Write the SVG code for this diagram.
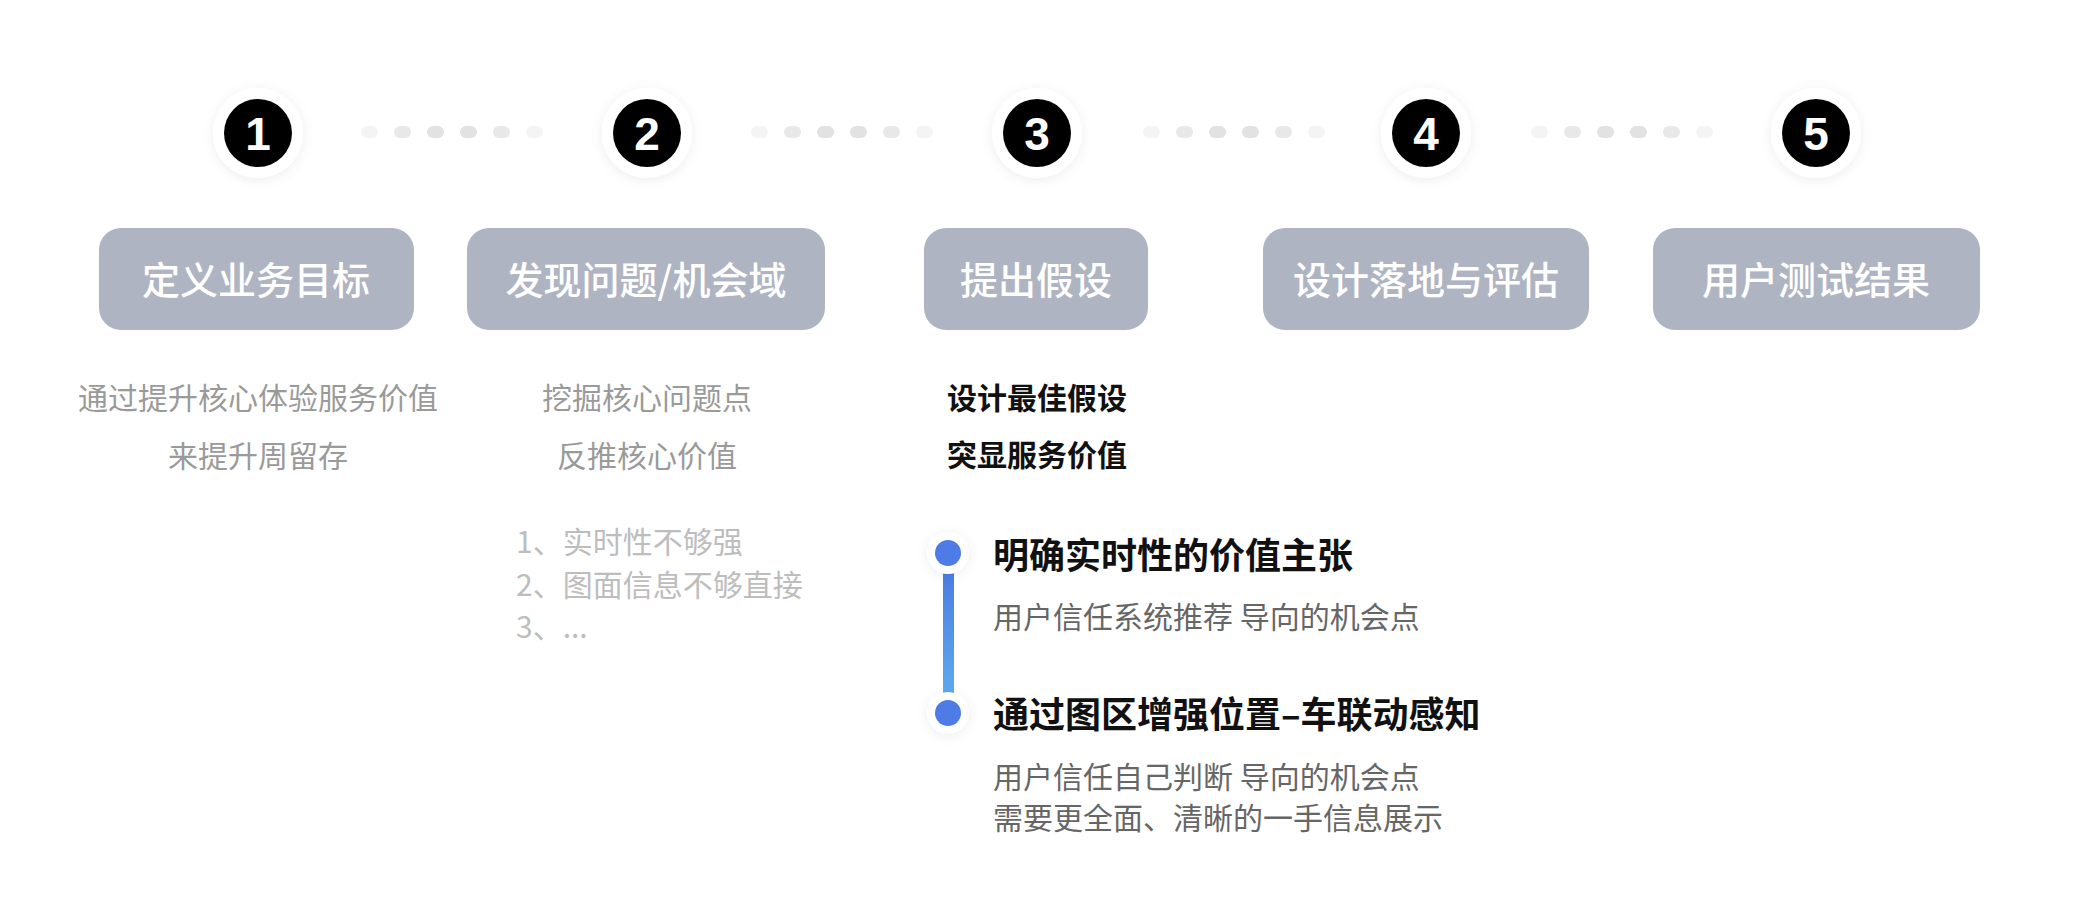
<svg xmlns="http://www.w3.org/2000/svg" width="2076" height="906" viewBox="0 0 2076 906">
<defs>
<filter id="sh" x="-50%" y="-50%" width="200%" height="200%">
<feDropShadow dx="0" dy="2" stdDeviation="6" flood-color="#000" flood-opacity="0.07"/>
</filter>
<linearGradient id="tl" x1="0" y1="0" x2="0" y2="1">
<stop offset="0" stop-color="#4C7CE2"/>
<stop offset="1" stop-color="#5CABEF"/>
</linearGradient>
<style>
.num{font-family:"Liberation Sans",Arial,sans-serif;font-weight:bold;font-size:46px;fill:#fff;text-anchor:middle}
.box{fill:#AFB4C2}
.bt{font-family:"Noto Sans CJK SC",sans-serif;font-weight:500;font-size:38px;fill:#fff;text-anchor:middle}
.d{font-family:"Noto Sans CJK SC",sans-serif;font-size:30px;fill:#9A9A9A;text-anchor:middle}
.l{font-family:"Noto Sans CJK SC",sans-serif;font-size:30px;fill:#BDBDBD}
.b{font-family:"Noto Sans CJK SC",sans-serif;font-weight:bold;font-size:30px;fill:#111;text-anchor:middle}
.h{font-family:"Noto Sans CJK SC",sans-serif;font-weight:bold;font-size:36px;fill:#111}
.s{font-family:"Noto Sans CJK SC",sans-serif;font-size:30px;fill:#666}
.dot0{fill:#F4F4F4}
.dot1{fill:#E8E8E8}
.dot2{fill:#E2E2E2}
</style>
</defs>
<rect width="2076" height="906" fill="#fff"/>
<g id="connectors">
<g id="c12" transform="translate(452,132)">
<rect class="dot0" x="-91" y="-6" width="17" height="12" rx="6"/>
<rect class="dot1" x="-58" y="-6" width="17" height="12" rx="6"/>
<rect class="dot2" x="-25" y="-6" width="17" height="12" rx="6"/>
<rect class="dot2" x="8" y="-6" width="17" height="12" rx="6"/>
<rect class="dot1" x="41" y="-6" width="17" height="12" rx="6"/>
<rect class="dot0" x="74" y="-6" width="17" height="12" rx="6"/>
</g>
<g id="c23" transform="translate(842,132)">
<rect class="dot0" x="-91" y="-6" width="17" height="12" rx="6"/>
<rect class="dot1" x="-58" y="-6" width="17" height="12" rx="6"/>
<rect class="dot2" x="-25" y="-6" width="17" height="12" rx="6"/>
<rect class="dot2" x="8" y="-6" width="17" height="12" rx="6"/>
<rect class="dot1" x="41" y="-6" width="17" height="12" rx="6"/>
<rect class="dot0" x="74" y="-6" width="17" height="12" rx="6"/>
</g>
<g id="c34" transform="translate(1234,132)">
<rect class="dot0" x="-91" y="-6" width="17" height="12" rx="6"/>
<rect class="dot1" x="-58" y="-6" width="17" height="12" rx="6"/>
<rect class="dot2" x="-25" y="-6" width="17" height="12" rx="6"/>
<rect class="dot2" x="8" y="-6" width="17" height="12" rx="6"/>
<rect class="dot1" x="41" y="-6" width="17" height="12" rx="6"/>
<rect class="dot0" x="74" y="-6" width="17" height="12" rx="6"/>
</g>
<g id="c45" transform="translate(1622,132)">
<rect class="dot0" x="-91" y="-6" width="17" height="12" rx="6"/>
<rect class="dot1" x="-58" y="-6" width="17" height="12" rx="6"/>
<rect class="dot2" x="-25" y="-6" width="17" height="12" rx="6"/>
<rect class="dot2" x="8" y="-6" width="17" height="12" rx="6"/>
<rect class="dot1" x="41" y="-6" width="17" height="12" rx="6"/>
<rect class="dot0" x="74" y="-6" width="17" height="12" rx="6"/>
</g>
<rect id="timeline" x="943" y="570" width="11" height="126" fill="url(#tl)"/>
</g>
<g id="step1">
<circle cx="258" cy="133" r="45" fill="#fff" filter="url(#sh)"/>
<circle cx="258" cy="133" r="34" fill="#000"/>
<text class="num" x="258" y="150">1</text>
<rect class="box" x="99" y="228" width="315" height="102" rx="22"/>
<text class="bt" x="256" y="294">定义业务目标</text>
<text class="d" x="258" y="409">通过提升核心体验服务价值</text>
<text class="d" x="258" y="467">来提升周留存</text>
</g>
<g id="step2">
<circle cx="647" cy="133" r="45" fill="#fff" filter="url(#sh)"/>
<circle cx="647" cy="133" r="34" fill="#000"/>
<text class="num" x="647" y="150">2</text>
<rect class="box" x="467" y="228" width="358" height="102" rx="22"/>
<text class="bt" x="646" y="294">发现问题/机会域</text>
<text class="d" x="647" y="409">挖掘核心问题点</text>
<text class="d" x="647" y="467">反推核心价值</text>
<text class="l" x="516" y="553">1、实时性不够强</text>
<text class="l" x="516" y="596">2、图面信息不够直接</text>
<text class="l" x="516" y="638">3、...</text>
</g>
<g id="step3">
<circle cx="1037" cy="133" r="45" fill="#fff" filter="url(#sh)"/>
<circle cx="1037" cy="133" r="34" fill="#000"/>
<text class="num" x="1037" y="150">3</text>
<rect class="box" x="924" y="228" width="224" height="102" rx="22"/>
<text class="bt" x="1036" y="294">提出假设</text>
<text class="b" x="1037" y="409">设计最佳假设</text>
<text class="b" x="1037" y="466">突显服务价值</text>
</g>
<g id="point1">
<circle cx="948" cy="553" r="21" fill="#fff" filter="url(#sh)"/>
<circle cx="948" cy="553" r="13" fill="#4F7BE6"/>
<text class="h" x="993" y="569">明确实时性的价值主张</text>
<text class="s" x="993" y="628">用户信任系统推荐 导向的机会点</text>
</g>
<g id="point2">
<circle cx="948" cy="713" r="21" fill="#fff" filter="url(#sh)"/>
<circle cx="948" cy="713" r="13" fill="#4F7BE6"/>
<text class="h" x="993" y="728">通过图区增强位置–车联动感知</text>
<text class="s" x="993" y="788">用户信任自己判断 导向的机会点</text>
<text class="s" x="993" y="829">需要更全面、清晰的一手信息展示</text>
</g>
<g id="step4">
<circle cx="1426" cy="133" r="45" fill="#fff" filter="url(#sh)"/>
<circle cx="1426" cy="133" r="34" fill="#000"/>
<text class="num" x="1426" y="150">4</text>
<rect class="box" x="1263" y="228" width="326" height="102" rx="22"/>
<text class="bt" x="1426" y="294">设计落地与评估</text>
</g>
<g id="step5">
<circle cx="1816" cy="133" r="45" fill="#fff" filter="url(#sh)"/>
<circle cx="1816" cy="133" r="34" fill="#000"/>
<text class="num" x="1816" y="150">5</text>
<rect class="box" x="1653" y="228" width="327" height="102" rx="22"/>
<text class="bt" x="1816" y="294">用户测试结果</text>
</g>
</svg>
